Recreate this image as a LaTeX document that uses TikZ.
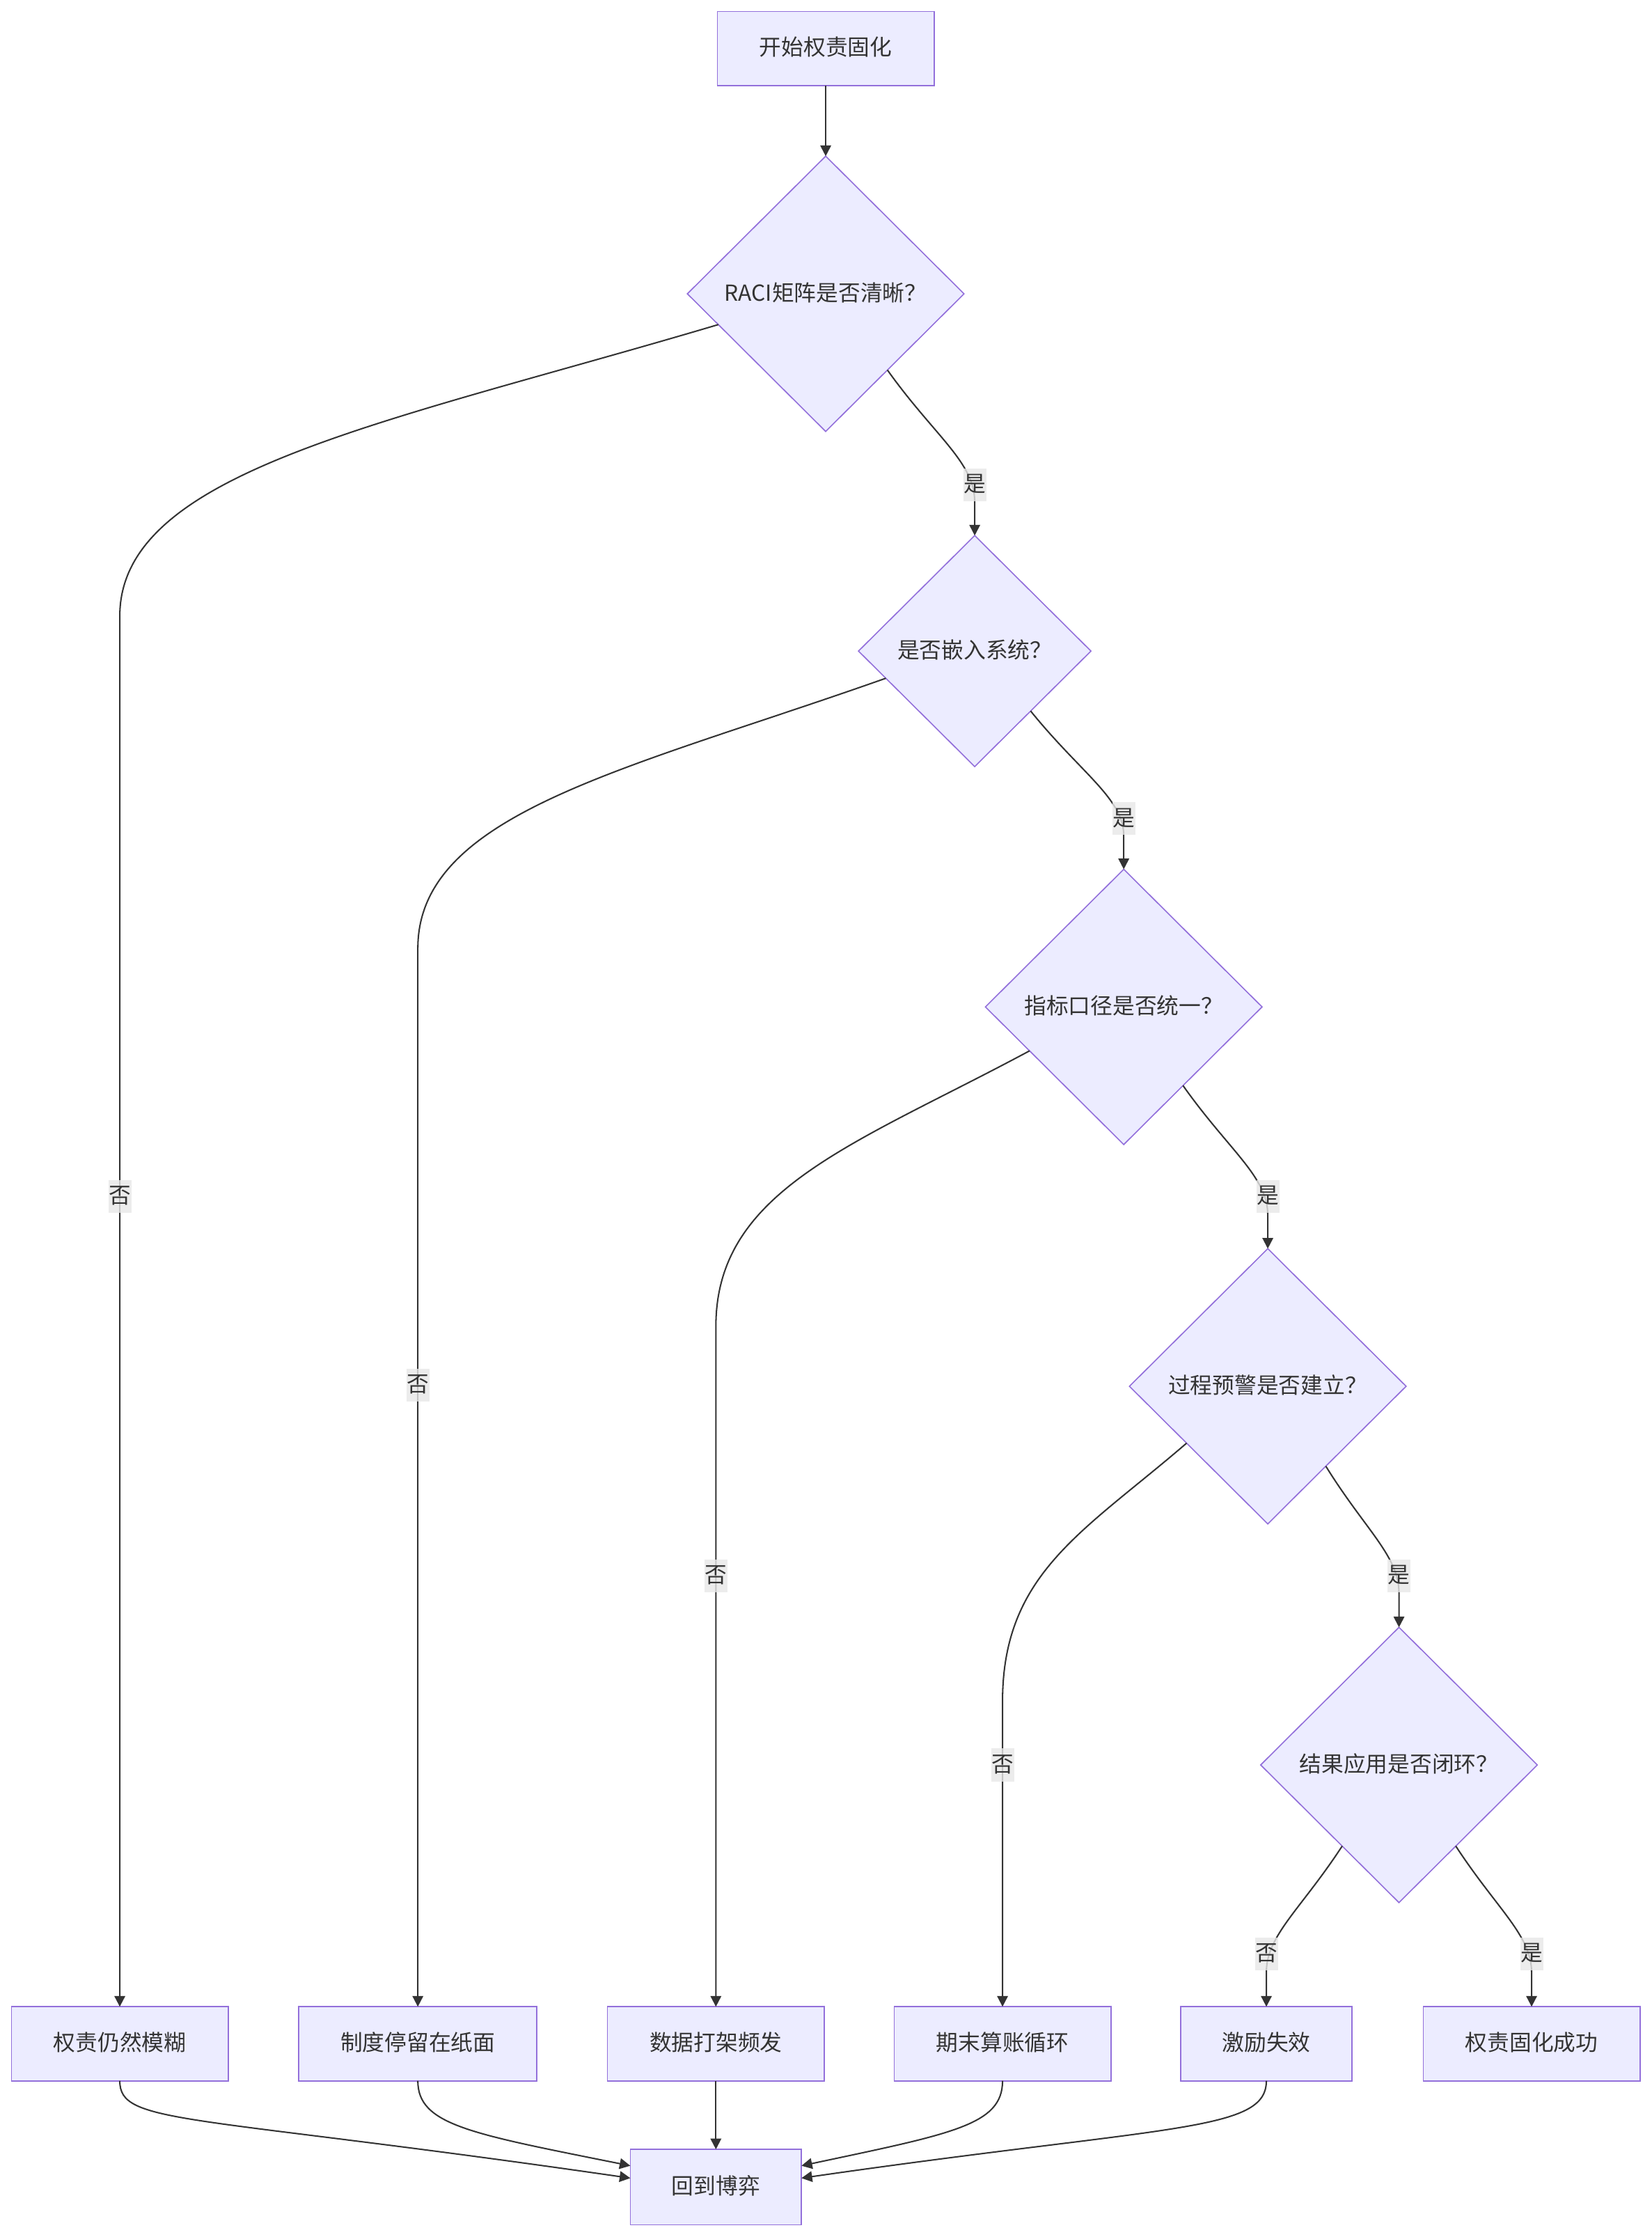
\documentclass[tikz,border=0pt]{standalone}
\usepackage{fontspec}
\setmainfont{Noto Sans CJK SC}
\usetikzlibrary{shapes.geometric,arrows.meta,calc}
\definecolor{nodefill}{HTML}{ECECFF}
\definecolor{nodeline}{HTML}{9370DB}
\definecolor{ink}{HTML}{333333}
\definecolor{lblbg}{HTML}{E8E8E8}
\begin{document}
\begin{tikzpicture}[x=1pt,y=-1pt,
  every node/.style={font=\fontsize{15.5}{18}\selectfont, text=ink, text height=13pt, text depth=3pt},
  box/.style={draw=nodeline, fill=nodefill, line width=0.8pt, minimum height=52pt, inner sep=0pt, outer sep=0pt},
  dia/.style={diamond, aspect=1, draw=nodeline, fill=nodefill, line width=0.8pt, inner sep=0pt, outer sep=0pt, minimum width=194pt, minimum height=193pt},
  conn/.style={draw=ink, line width=1pt, -{Triangle[length=7.5pt,width=7.5pt]}},
  lbl/.style={fill=lblbg, fill opacity=0.8, text opacity=1, inner xsep=0.3pt, inner ysep=3.5pt}
]
\useasboundingbox (0,0) rectangle (1158,1568.5);
\fill[white] (0,0) rectangle (1158,1568.5);

% nodes
\node[box, minimum width=152pt] (start) at (579,34) {开始权责固化};
\node[dia] (d1) at (579,206) {RACI矩阵是否清晰？};
\node[dia, minimum width=163pt, minimum height=162pt] (d2) at (683.5,456.5) {是否嵌入系统？};
\node[dia] (d3) at (788,706) {指标口径是否统一？};
\node[dia] (d4) at (889,972) {过程预警是否建立？};
\node[dia] (d5) at (981,1237.5) {结果应用是否闭环？};

\node[box, minimum width=152pt] (b1) at (84,1433) {权责仍然模糊};
\node[box, minimum width=167pt] (b2) at (293,1433) {制度停留在纸面};
\node[box, minimum width=152pt] (b3) at (502,1433) {数据打架频发};
\node[box, minimum width=152pt] (b4) at (703,1433) {期末算账循环};
\node[box, minimum width=120pt] (b5) at (888,1433) {激励失效};
\node[box, minimum width=152pt] (b6) at (1074,1433) {权责固化成功};
\node[box, minimum width=120pt, minimum height=53pt] (end) at (502,1533.5) {回到博弈};

% connectors
\draw[conn] (start.south) -- (d1.north);
\draw[conn] (d1.-51.5) .. controls (655.5,306) and (683.5,324) .. (683.5,352) -- (d2.north);
\draw[conn] (d1.196) .. controls (270,297) and (84,330) .. (84,432) -- (b1.north);
\draw[conn] (d2.-47.8) .. controls (758.3,542.5) and (788,560) .. (788,586) -- (d3.north);
\draw[conn] (d2.197.6) .. controls (439,540) and (293,570) .. (293,665) -- (b2.north);
\draw[conn] (d3.-53.8) .. controls (862,807) and (889,825) .. (889,852) -- (d4.north);
\draw[conn] (d3.205.5) .. controls (599.5,802.5) and (502,834) .. (502,930) -- (b3.north);
\draw[conn] (d4.-54.9) .. controls (957.6,1073) and (981,1091) .. (981,1117) -- (d5.north);
\draw[conn] (d4.215.7) .. controls (760,1074) and (703,1103) .. (703,1193) -- (b4.north);
\draw[conn] (d5.235.4) .. controls (912,1339) and (888,1357) .. (888,1383) -- (b5.north);
\draw[conn] (d5.-55.4) .. controls (1050,1339) and (1074,1357) .. (1074,1383) -- (b6.north);

\draw[conn] (b1.south) .. controls (84,1490) and (130,1482) .. (end.174);
\draw[conn] (b2.south) .. controls (293,1490) and (330,1496) .. (end.166);
\draw[conn] (b3.south) -- (end.north);
\draw[conn] (b4.south) .. controls (703,1490) and (668,1496) .. (end.14);
\draw[conn] (b5.south) .. controls (888,1495) and (820,1490) .. (end.6);

% labels
\node[lbl] (l1) at (683.5,340) {是};
\node[lbl] (l2) at (84,839) {否};
\node[lbl] (l3) at (788,574) {是};
\node[lbl] (l4) at (293,971) {否};
\node[lbl] (l5) at (889,839) {是};
\node[lbl] (l6) at (502,1105) {否};
\node[lbl] (l7) at (981,1105) {是};
\node[lbl] (l8) at (703,1237.5) {否};
\node[lbl] (l9) at (888,1370) {否};
\node[lbl] (l10) at (1074,1370) {是};
\end{tikzpicture}
\end{document}
